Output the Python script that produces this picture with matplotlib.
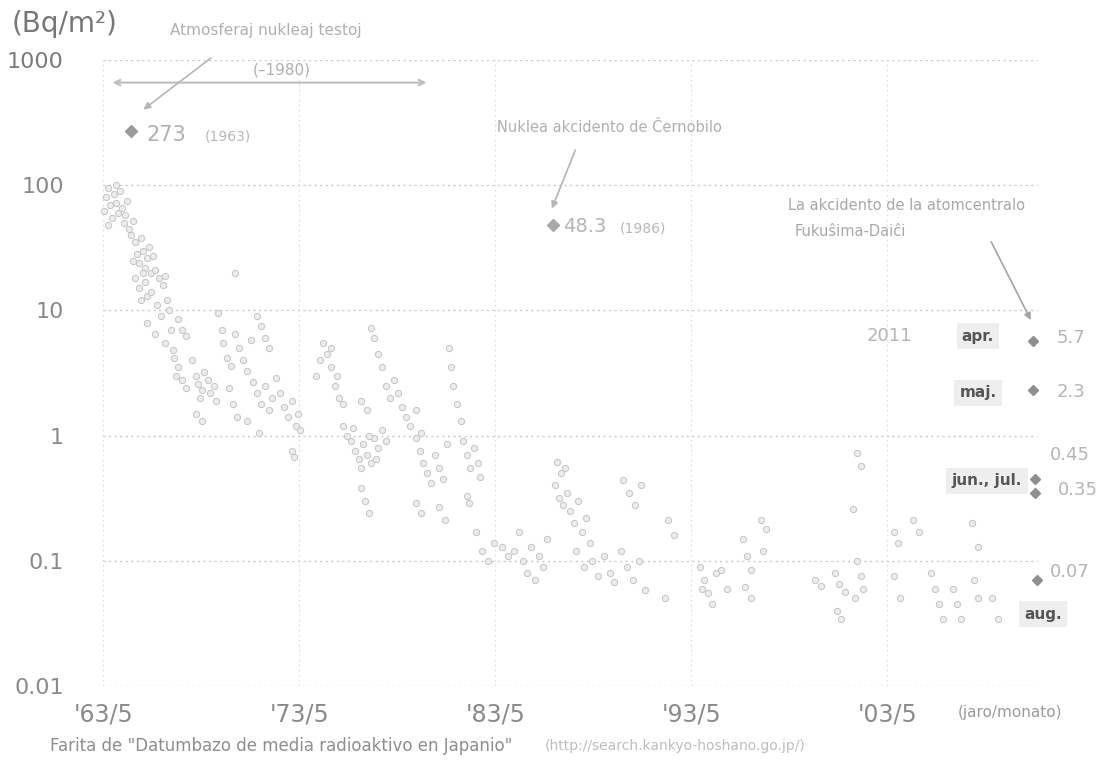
import matplotlib
matplotlib.use("Agg")
import matplotlib.pyplot as plt
import numpy as np

# monthly Cs-137 fallout (decimal year, Bq/m2)
years_6x = [1963.4, 1963.5, 1963.6, 1963.7, 1963.8, 1963.9, 1964.0, 1964.1, 1964.2,
            1964.3, 1964.4, 1964.5, 1964.6, 1964.7, 1964.8, 1964.9, 1963.6, 1964.0,
            1965.0, 1965.1, 1965.2, 1965.3, 1965.4, 1965.5, 1965.6, 1965.7, 1965.8,
            1965.9, 1964.9, 1965.0, 1965.2, 1965.3, 1965.5, 1965.6, 1965.4,
            1966.0, 1966.2, 1966.4, 1966.5, 1965.8, 1966.1, 1966.3, 1966.6, 1966.7,
            1965.6, 1966.0, 1966.5, 1966.8, 1966.9, 1967.0, 1967.2, 1967.4, 1967.6,
            1967.1, 1967.2, 1967.4, 1967.6, 1967.9, 1968.1, 1968.2, 1968.4, 1968.5,
            1968.7, 1968.8, 1969.0, 1969.1, 1968.3, 1968.1, 1968.4,
            1969.2, 1969.4, 1969.5, 1969.7, 1969.9]
vals_6x = [62, 80, 95, 70, 55, 85, 72, 60, 90,
           66, 50, 58, 75, 45, 40, 52, 48, 100,
           35, 28, 24, 38, 30, 22, 26, 32, 20,
           27, 25, 18, 15, 12, 17, 13, 20,
           21, 18, 16, 19, 14, 11, 9, 12, 10,
           8, 6.5, 5.5, 7, 4.8, 4.2, 3.5, 2.8, 2.4,
           3.0, 8.5, 7, 6.2, 4.0, 3.0, 2.6, 2.3, 3.2,
           2.8, 2.2, 2.5, 1.9, 2.0, 1.5, 1.3,
           9.5, 7, 5.5, 4.2, 3.6]

years_7x = [1970.1, 1970.3, 1970.5, 1970.7, 1970.9, 1969.8, 1970.0, 1970.2,
            1971.0, 1971.2, 1971.4, 1971.6, 1971.8, 1972.0, 1971.2, 1971.4,
            1971.6, 1971.8, 1972.2, 1972.4, 1972.6, 1972.8, 1973.0, 1973.2,
            1970.7, 1971.3, 1970.1, 1973.0, 1973.1, 1973.3, 1973.4,
            1974.2, 1974.4, 1974.6, 1974.8, 1975.0, 1975.2, 1975.4, 1975.6,
            1975.0, 1975.3, 1975.6, 1975.8, 1976.0, 1976.2, 1976.4, 1976.6,
            1976.8, 1977.0, 1977.2, 1977.4, 1977.6, 1977.8, 1976.1, 1976.5,
            1976.9, 1977.3, 1976.5, 1976.7, 1976.9, 1976.5, 1976.8,
            1977.0, 1977.2, 1977.4, 1977.6, 1977.8, 1978.0,
            1978.2, 1978.4, 1978.6, 1978.8, 1979.0, 1979.3, 1979.6,
            1979.3, 1979.5, 1979.7, 1979.9]
vals_7x = [6.5, 5, 4, 3.3, 5.8, 2.4, 1.8, 1.4,
           2.7, 2.2, 1.8, 2.5, 1.6, 2.0, 9, 7.5,
           6, 5, 2.9, 2.2, 1.7, 1.4, 1.9, 1.2,
           1.3, 1.05, 20, 0.75, 0.68, 1.5, 1.1,
           3.0, 4.0, 5.5, 4.5, 3.5, 2.5, 2.0, 1.8,
           5.0, 3.0, 1.2, 1.0, 0.9, 0.75, 0.65, 0.85,
           0.7, 0.6, 0.95, 0.8, 1.1, 0.9, 1.15, 0.55,
           1.0, 0.65, 0.38, 0.3, 0.24, 1.9, 1.6,
           7.2, 6.0, 4.5, 3.5, 2.5, 2.0,
           2.8, 2.2, 1.7, 1.4, 1.2, 1.6, 1.05,
           0.95, 0.75, 0.6, 0.5]

years_8x = [1980.1, 1980.3, 1980.5, 1980.7, 1980.9, 1979.3, 1979.6, 1980.5, 1980.8,
            1981.0, 1981.1, 1981.2, 1981.4, 1981.6, 1981.7, 1981.9, 1982.1, 1982.3,
            1982.5, 1982.6, 1981.9, 1982.0, 1982.4, 1982.7, 1983.0, 1983.3,
            1983.7, 1984.0, 1984.3, 1984.6, 1984.8, 1985.0, 1985.2, 1985.4,
            1985.6, 1985.8, 1986.0, 1986.5, 1986.7, 1986.9, 1986.4, 1986.6,
            1986.8, 1987.0, 1987.2, 1987.4, 1987.6, 1987.8, 1988.0, 1988.2,
            1987.5, 1987.9, 1988.3, 1988.6, 1988.9, 1989.2, 1989.4]
vals_8x = [0.42, 0.7, 0.55, 0.45, 0.85, 0.29, 0.24, 0.27, 0.21,
           5.0, 3.5, 2.5, 1.8, 1.3, 0.9, 0.7, 0.55, 0.8,
           0.6, 0.47, 0.33, 0.29, 0.17, 0.12, 0.1, 0.14,
           0.13, 0.11, 0.12, 0.17, 0.1, 0.08, 0.13, 0.07,
           0.11, 0.09, 0.15, 0.62, 0.5, 0.55, 0.4, 0.32,
           0.28, 0.35, 0.25, 0.2, 0.3, 0.17, 0.22, 0.14,
           0.12, 0.09, 0.1, 0.075, 0.11, 0.08, 0.068]

years_9x = [1989.9, 1990.2, 1990.5, 1990.8, 1989.8, 1990.1, 1990.4, 1990.7, 1991.0,
            1992.2, 1992.5, 1992.0, 1993.8, 1994.0, 1994.2, 1994.4, 1994.6, 1993.9,
            1994.9, 1995.2, 1996.0, 1996.2, 1996.4, 1996.1, 1996.4, 1996.9, 1997.2,
            1997.0, 1999.7, 2000.0, 2000.7, 2000.9, 2001.2, 2000.8, 2001.0,
            2001.8, 2002.0, 2001.6, 2001.8, 2002.0, 2002.1, 2001.7,
            2003.7, 2003.9, 2003.7, 2004.0, 2004.7, 2005.0, 2005.6, 2005.8,
            2006.0, 2006.2, 2006.7, 2006.9, 2007.1, 2007.7, 2008.0, 2007.8,
            2008.0, 2008.7, 2009.0]
vals_9x = [0.44, 0.35, 0.28, 0.4, 0.12, 0.09, 0.07, 0.1, 0.058,
           0.21, 0.16, 0.05, 0.09, 0.07, 0.055, 0.045, 0.08, 0.06,
           0.085, 0.06, 0.15, 0.11, 0.085, 0.062, 0.05, 0.21, 0.18,
           0.12, 0.07, 0.063, 0.08, 0.065, 0.056, 0.04, 0.034,
           0.73, 0.57, 0.26, 0.1, 0.075, 0.06, 0.05,
           0.17, 0.14, 0.075, 0.05, 0.21, 0.17, 0.08, 0.06,
           0.045, 0.034, 0.06, 0.045, 0.034, 0.2, 0.13, 0.07,
           0.05, 0.05, 0.034]

# highlighted events
peak_1963 = (1964.8, 273)
peak_1986 = (1986.3, 48.3)
months_2011 = ["apr.", "maj.", "jun., jul.", "aug."]
years_2011 = [2010.8, 2010.8, 2010.9, 2010.9, 2011.0]
vals_2011 = [5.7, 2.3, 0.45, 0.35, 0.07]

x_ticks = [1963.37, 1973.37, 1983.37, 1993.37, 2003.37]
x_labels = ["'63/5", "'73/5", "'83/5", "'93/5", "'03/5"]
y_ticks = [0.01, 0.1, 1, 10, 100, 1000]
y_labels = ["0.01", "0.1", "1", "10", "100", "1000"]

W, H = 1108, 773
fig = plt.figure(figsize=(W / 100, H / 100), dpi=100, facecolor="white")
ax = fig.add_axes([100 / W, 1 - 686 / H, 946 / W, 626 / H])
ax.set_facecolor("white")

def px(x, y):
    return x / W, 1 - y / H

# background points
pt = dict(marker="o", ms=4.5, mfc="#ececec", mec="#c4c4c4", mew=0.7, ls="none")
for xs, vs in [(years_6x, vals_6x), (years_7x, vals_7x),
               (years_8x, vals_8x), (years_9x, vals_9x)]:
    ax.plot(xs, vs, **pt, zorder=3)

ax.set_yscale("log")
ax.set_xlim(1963.2, 2011.46)
ax.set_ylim(0.01, 1000)

for yv in y_ticks:
    ax.axhline(yv, xmin=0.003, xmax=0.99, color="#c8c8c8", lw=1.0,
               ls=(0, (1.5, 2.5)), zorder=1)
for xv in x_ticks:
    ax.axvline(xv, color="#dddddd", lw=0.8, ls=(0, (1.5, 3)), zorder=1)

for s in ax.spines.values():
    s.set_visible(False)
ax.tick_params(length=0)
ax.set_xticks(x_ticks)
ax.set_xticklabels(x_labels, fontsize=17, color="#8a8a8a",
                   family=["Liberation Sans Narrow", "DejaVu Sans"])
ax.set_yticks(y_ticks)
ax.set_yticklabels(y_labels, fontsize=16, color="#8a8a8a")
ax.get_yticklabels()[-1].set_color("#7a7a7a")
ax.minorticks_off()
ax.tick_params(axis="x", pad=12)
ax.tick_params(axis="y", pad=26)

# y unit + x unit
fig.text(*px(12, 24), "(Bq/m²)", fontsize=20, color="#777777",
         ha="left", va="center")
fig.text(*px(958, 712), "(jaro/monato)", fontsize=11, color="#9a9a9a",
         ha="left", va="center")

# 1963 annotation
ax.annotate("", xy=(1963.7, 660), xytext=(1980.0, 660),
            arrowprops=dict(arrowstyle="<->", color="#bdbdbd", lw=1.5))
ax.annotate("", xy=(1965.3, 390), xytext=(1968.97, 1070),
            arrowprops=dict(arrowstyle="-|>", color="#b5b5b5", lw=1.2),
            annotation_clip=False)
ax.plot(*peak_1963, marker="D", ms=6, color="#9a9a9a", zorder=5)
fig.text(*px(170, 30), "Atmosferaj nukleaj testoj", fontsize=11,
         color="#b0b0b0", ha="left", va="center")
fig.text(*px(253, 70), "(–1980)", fontsize=11, color="#b0b0b0",
         ha="left", va="center")
fig.text(*px(146, 135), "273", fontsize=15, color="#b0b0b0",
         ha="left", va="center")
fig.text(*px(205, 137), "(1963)", fontsize=10, color="#b8b8b8",
         ha="left", va="center")

# Chernobyl
ax.annotate("", xy=(1986.2, 62), xytext=(1987.5, 200),
            arrowprops=dict(arrowstyle="-|>", color="#b5b5b5", lw=1.2))
ax.plot(*peak_1986, marker="D", ms=6, color="#a8a8a8", zorder=5)
fig.text(*px(497, 127), "Nuklea akcidento de Ĉernobilo", fontsize=10.5,
         color="#b0b0b0", ha="left", va="center")
fig.text(*px(563, 227), "48.3", fontsize=14, color="#b5b5b5",
         ha="left", va="center")
fig.text(*px(620, 228), "(1986)", fontsize=10, color="#b8b8b8",
         ha="left", va="center")

# Fukushima 2011
ax.annotate("", xy=(2010.75, 8.0), xytext=(2008.6, 37),
            arrowprops=dict(arrowstyle="-|>", color="#a5a5a5", lw=1.2))
fig.text(*px(788, 206), "La akcidento de la atomcentralo", fontsize=10.5,
         color="#a8a8a8", ha="left", va="center")
fig.text(*px(795, 232), "Fukuŝima-Daiĉi", fontsize=10.5,
         color="#a8a8a8", ha="left", va="center")
ax.plot(years_2011, vals_2011, marker="D", ms=5.5, ls="none",
        color="#8e8e8e", zorder=6, clip_on=False)
fig.text(*px(867, 336), "2011", fontsize=13, color="#b5b5b5",
         ha="left", va="center")

box = dict(boxstyle="square,pad=0.35", fc="#eeeeee", ec="none")
lab_pos = [(978, 336), (978, 393), (987, 481), (1043, 614)]
for m, (lx, ly) in zip(months_2011, lab_pos):
    fig.text(*px(lx, ly), m, fontsize=11, fontweight="bold", color="#555555",
             ha="center", va="center", bbox=box)
val_pos = [(1057, 338), (1057, 392), (1050, 455), (1058, 490), (1050, 572)]
for v, (lx, ly) in zip(vals_2011, val_pos):
    fig.text(*px(lx, ly), f"{v:g}", fontsize=13, color="#b5b5b5",
             ha="left", va="center")

# source line
fig.text(*px(50, 746), 'Farita de "Datumbazo de media radioaktivo en Japanio"',
         fontsize=12, color="#8e8e8e", ha="left", va="center")
fig.text(*px(545, 746), "(http://search.kankyo-hoshano.go.jp/)",
         fontsize=10, color="#bdbdbd", ha="left", va="center")

fig.savefig("out.png", dpi=100, facecolor="white")
